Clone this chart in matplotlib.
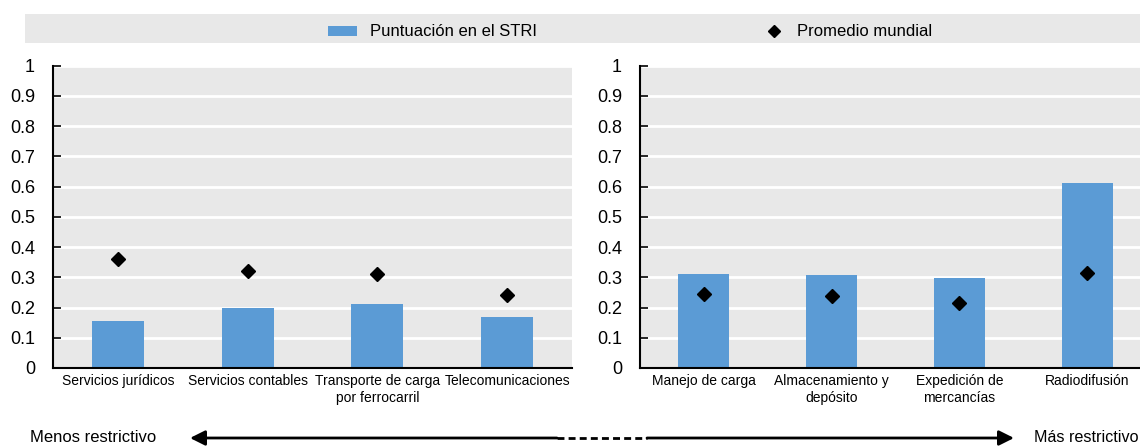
import matplotlib
matplotlib.use("Agg")
import matplotlib.pyplot as plt
from matplotlib.patches import Rectangle, FancyArrowPatch
from matplotlib.lines import Line2D
import numpy as np

plt.rcParams['font.family'] = ['Liberation Sans', 'DejaVu Sans']

left_categories = ["Servicios jurídicos", "Servicios contables", "Transporte de carga\npor ferrocarril", "Telecomunicaciones"]
left_stri = [0.156, 0.200, 0.212, 0.168]
left_avg = [0.361, 0.322, 0.312, 0.240]

right_categories = ["Manejo de carga", "Almacenamiento y\ndepósito", "Expedición de\nmercancías", "Radiodifusión"]
right_stri = [0.310, 0.307, 0.299, 0.613]
right_avg = [0.246, 0.237, 0.215, 0.314]

yticks = [0, 0.1, 0.2, 0.3, 0.4, 0.5, 0.6, 0.7, 0.8, 0.9, 1]
ytick_labels = ["0", "0.1", "0.2", "0.3", "0.4", "0.5", "0.6", "0.7", "0.8", "0.9", "1"]

legend_labels = ["Puntuación en el STRI", "Promedio mundial"]
arrow_labels = ["Menos restrictivo", "Más restrictivo"]

BAR = "#5b9bd5"
BG = "#e8e8e8"
W, H = 1140, 446

fig = plt.figure(figsize=(W / 100, H / 100), dpi=100)

def fx(px):
    return px / W

def fy(py):
    return (H - py) / H

ax1 = fig.add_axes([fx(53), fy(368), fx(572 - 53), (368 - 65.6) / H])
ax2 = fig.add_axes([fx(640), fy(368), fx(1140 - 640), (368 - 65.6) / H])

def style(ax, cats, stri, avg, xmax):
    x = np.arange(len(cats))
    ax.set_facecolor(BG)
    ax.bar(x, stri, width=0.4, color=BAR, zorder=2)
    ax.plot(x, avg, linestyle="none", marker="D", color="black", markersize=7.5, zorder=3)
    ax.set_ylim(0, 1)
    ax.set_xlim(-0.5, xmax)
    ax.set_yticks(yticks)
    ax.set_yticklabels(ytick_labels, fontsize=13)
    ax.set_xticks(x)
    ax.set_xticklabels(cats, fontsize=10, linespacing=1.35)
    ax.tick_params(axis="x", length=0, pad=4)
    ax.tick_params(axis="y", direction="in", length=6, width=1.2, pad=13)
    ax.grid(axis="y", color="white", linewidth=2, zorder=1)
    ax.set_axisbelow(True)
    for s in ["top", "right"]:
        ax.spines[s].set_visible(False)
    for s in ["left", "bottom"]:
        ax.spines[s].set_linewidth(1.5)
        ax.spines[s].set_color("black")

style(ax1, left_categories, left_stri, left_avg, 3.5)
style(ax2, right_categories, right_stri, right_avg, 3.5 - 11 / 127.7)

# legend band
fig.patches.append(Rectangle((fx(25), fy(43)), fx(1140 - 25), (43 - 14) / H,
                             transform=fig.transFigure, facecolor=BG, edgecolor="none", zorder=0))
fig.patches.append(Rectangle((fx(328), fy(36)), fx(29), 10 / H,
                             transform=fig.transFigure, facecolor=BAR, edgecolor="none"))
fig.text(fx(370), fy(31), legend_labels[0], fontsize=12, va="center", ha="left")
fig.lines.append(Line2D([fx(774)], [fy(31)], transform=fig.transFigure, marker="D",
                        color="black", markersize=6, linestyle="none"))
fig.text(fx(797), fy(31), legend_labels[1], fontsize=12, va="center", ha="left")

# bottom arrow
ya = fy(438)
fig.text(fx(30), ya, arrow_labels[0], fontsize=12, va="center", ha="left")
fig.text(fx(1139), ya, arrow_labels[1], fontsize=11.6, va="center", ha="right")
fig.patches.append(FancyArrowPatch((fx(557), ya), (fx(190), ya), transform=fig.transFigure,
                                   arrowstyle="-|>,head_length=9,head_width=4.5", color="black",
                                   linewidth=2, mutation_scale=1, shrinkA=0, shrinkB=0))
fig.patches.append(FancyArrowPatch((fx(647), ya), (fx(1014), ya), transform=fig.transFigure,
                                   arrowstyle="-|>,head_length=9,head_width=4.5", color="black",
                                   linewidth=2, mutation_scale=1, shrinkA=0, shrinkB=0))
fig.lines.append(Line2D([fx(557), fx(647)], [ya, ya], transform=fig.transFigure,
                        color="black", linewidth=2, linestyle=(0, (2.5, 1.5))))

fig.savefig("out.png", dpi=100)
